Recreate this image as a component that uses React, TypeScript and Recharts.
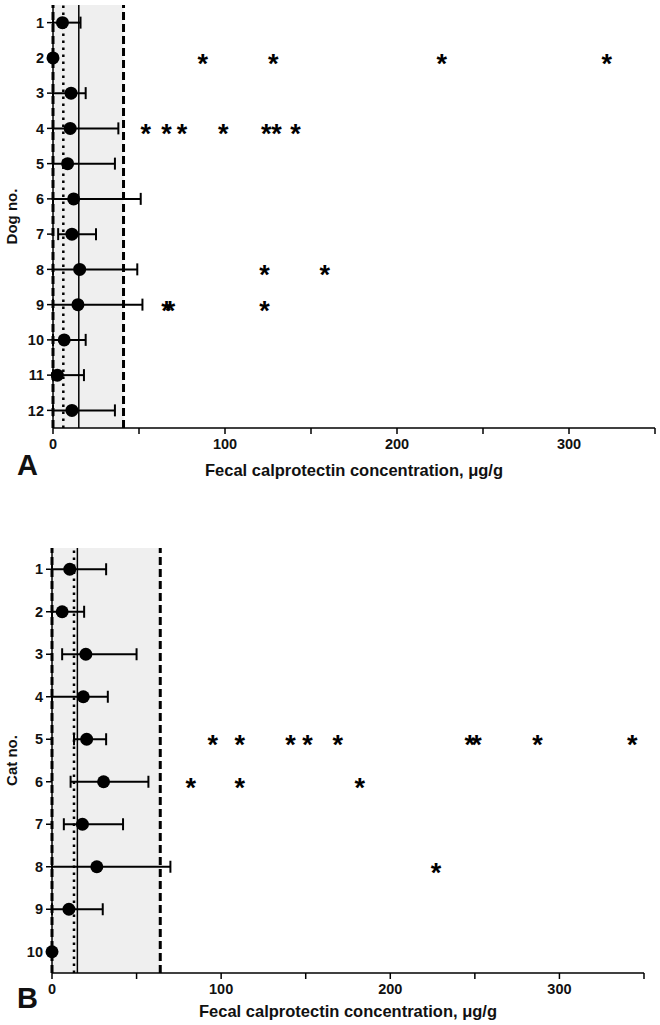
import React from "react";
import {
  ScatterChart,
  Scatter,
  XAxis,
  YAxis,
  ErrorBar,
  ReferenceArea,
  ReferenceLine,
} from "recharts";

const FONT = "'Liberation Sans', Arial, sans-serif";

// Panel A: dogs
const dogIds = [1, 2, 3, 4, 5, 6, 7, 8, 9, 10, 11, 12];
const dogMedian = [5.5, 0, 10.5, 10, 8.5, 12, 11, 15.5, 14.5, 6.5, 2.5, 11];
const dogLow = [0, 0, 0, 0, 0, 0, 3, 0, 0, 0, 0, 0];
const dogHigh = [16, 0, 19, 38, 36, 51, 25, 49, 52, 19, 18, 36];
const dogOutlierId = [2, 2, 2, 2, 4, 4, 4, 4, 4, 4, 4, 8, 8, 9, 9, 9];
const dogOutlierValue = [87, 128, 226, 322, 54, 66, 75, 99, 124, 130, 141, 123, 158, 66, 68, 123];
const dogDotted = 6;
const dogSolid = 15;
const dogUpper = 41;

// Panel B: cats
const catIds = [1, 2, 3, 4, 5, 6, 7, 8, 9, 10];
const catMedian = [10.5, 6, 20, 18.5, 20.5, 30.5, 18, 26.5, 10, 0];
const catLow = [0, 0, 6, 0, 13, 11, 7, 0, 0, 0];
const catHigh = [32, 19, 50, 33, 32, 57, 42, 70, 30, 0];
const catOutlierId = [5, 5, 5, 5, 5, 5, 5, 5, 5, 6, 6, 6, 8];
const catOutlierValue = [95, 111, 141, 151, 169, 247, 251, 287, 343, 82, 111, 182, 227];
const catDotted = 13;
const catSolid = 15;
const catUpper = 64;

const xTicks = [0, 50, 100, 150, 200, 250, 300, 350];
const xTitle = "Fecal calprotectin concentration, \u03bcg/g";

const tickStyle = { fill: "#111", fontSize: 14.5, fontWeight: 700, fontFamily: FONT };
const titleStyle = { fill: "#111", fontSize: 16.5, fontWeight: 700, fontFamily: FONT };

interface PanelProps {
  ids: number[];
  median: number[];
  low: number[];
  high: number[];
  outlierId: number[];
  outlierValue: number[];
  dotted: number;
  solid: number;
  upper: number;
  yTitle: string;
  height: number;
  margin: { top: number; right: number; bottom: number; left: number };
  yWidth: number;
  xHeight: number;
  titleOffset: number;
}

const Dot = (p: any) => <circle cx={p.cx} cy={p.cy} r={6.5} fill="#000" />;

const Star = (p: any) => (
  <text
    x={p.cx}
    y={p.cy + 15}
    textAnchor="middle"
    fontSize={27}
    fontWeight={700}
    fontFamily={FONT}
    fill="#000"
  >
    *
  </text>
);

function Panel(props: PanelProps) {
  const rows = props.ids.map((id, i) => ({
    x: props.median[i],
    y: id,
    err: [props.median[i] - props.low[i], props.high[i] - props.median[i]],
  }));
  const outliers = props.outlierId.map((id, i) => ({ x: props.outlierValue[i], y: id }));
  const n = props.ids.length;

  return (
    <ScatterChart width={660} height={props.height} margin={props.margin}>
      <ReferenceArea x1={0} x2={props.upper} fill="#efefef" fillOpacity={1} stroke="none" />
      <XAxis
        type="number"
        dataKey="x"
        domain={[0, 350]}
        ticks={xTicks}
        tickFormatter={(v: number) => (v % 100 === 0 ? String(v) : "")}
        tick={tickStyle}
        tickSize={6}
        tickMargin={5}
        axisLine={{ stroke: "#000", strokeWidth: 1.5 }}
        tickLine={{ stroke: "#000", strokeWidth: 1.5 }}
        height={props.xHeight}
        label={{
          value: xTitle,
          position: "insideBottom",
          offset: props.titleOffset,
          style: titleStyle,
        }}
      />
      <YAxis
        type="number"
        dataKey="y"
        domain={[0.5, n + 0.5]}
        ticks={props.ids}
        interval={0}
        reversed
        tick={tickStyle}
        tickSize={6}
        tickMargin={3}
        axisLine={{ stroke: "#000", strokeWidth: 1.5 }}
        tickLine={{ stroke: "#000", strokeWidth: 1.5 }}
        width={props.yWidth}
        label={{
          value: props.yTitle,
          angle: -90,
          position: "insideLeft",
          offset: 12,
          style: { ...titleStyle, fontSize: 15, textAnchor: "middle" },
        }}
      />
      <ReferenceLine x={props.solid} stroke="#000" strokeWidth={1.5} />
      <ReferenceLine x={props.dotted} stroke="#000" strokeWidth={2.5} strokeDasharray="2.5 4.5" />
      <ReferenceLine x={0} stroke="#000" strokeWidth={3} strokeDasharray="8 4" />
      <ReferenceLine x={props.upper} stroke="#000" strokeWidth={3} strokeDasharray="8 4" />
      <Scatter data={rows} shape={Dot} isAnimationActive={false}>
        <ErrorBar dataKey="err" direction="x" width={6} stroke="#000" strokeWidth={2} isAnimationActive={false} />
      </Scatter>
      <Scatter data={outliers} shape={Star} isAnimationActive={false} />
    </ScatterChart>
  );
}

const letterStyle: React.CSSProperties = {
  position: "absolute",
  left: 17,
  fontFamily: FONT,
  fontWeight: 700,
  fontSize: 29,
  lineHeight: 1,
  color: "#111",
};

export default function App() {
  return (
    <div style={{ position: "absolute", left: 0, top: 0, width: 660, height: 1025, background: "#fff" }}>
      <div style={{ position: "absolute", left: 0, top: 0 }}>
        <Panel
          ids={dogIds}
          median={dogMedian}
          low={dogLow}
          high={dogHigh}
          outlierId={dogOutlierId}
          outlierValue={dogOutlierValue}
          dotted={dogDotted}
          solid={dogSolid}
          upper={dogUpper}
          yTitle="Dog no."
          height={490}
          margin={{ top: 5, right: 5, bottom: 0, left: 0 }}
          yWidth={53}
          xHeight={62}
          titleOffset={14}
        />
      </div>
      <div style={{ ...letterStyle, top: 451 }}>A</div>
      <div style={{ position: "absolute", left: 0, top: 540 }}>
        <Panel
          ids={catIds}
          median={catMedian}
          low={catLow}
          high={catHigh}
          outlierId={catOutlierId}
          outlierValue={catOutlierValue}
          dotted={catDotted}
          solid={catSolid}
          upper={catUpper}
          yTitle="Cat no."
          height={483}
          margin={{ top: 8, right: 16, bottom: 0, left: 0 }}
          yWidth={52}
          xHeight={50}
          titleOffset={6}
        />
      </div>
      <div style={{ ...letterStyle, top: 984 }}>B</div>
    </div>
  );
}
